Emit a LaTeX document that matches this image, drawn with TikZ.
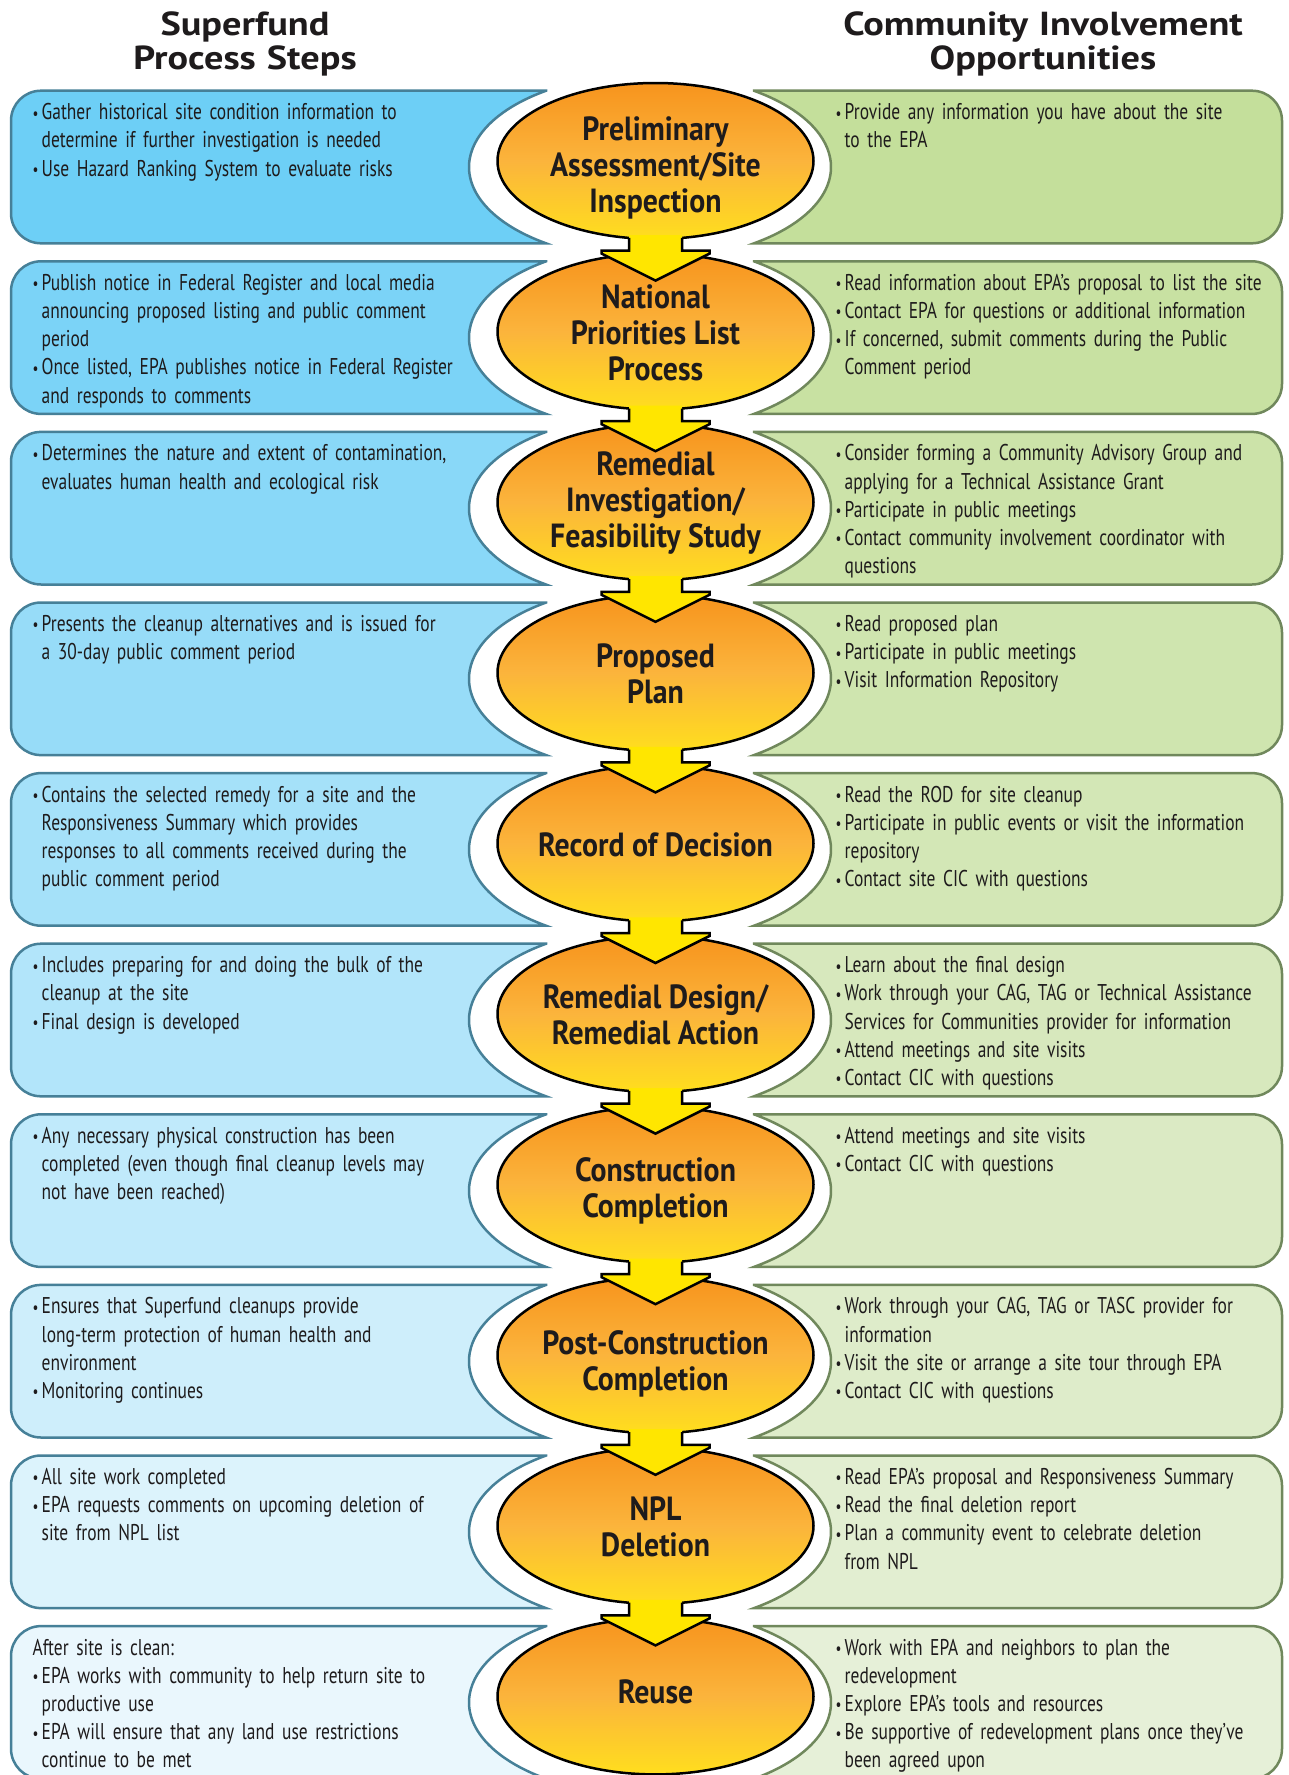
\documentclass[tikz,border=0pt]{standalone}
\usepackage{fontspec}
\setmainfont{PT Sans}
\newfontfamily\bodyfont{PT Sans}[FakeStretch=0.765]
\newfontfamily\stagefont{PT Sans}[FakeStretch=0.89]
\newfontfamily\titlefont{PT Sans}[FakeStretch=1.15]
\usetikzlibrary{shapes.geometric,calc}

\definecolor{blueA}{RGB}{109,207,246}
\definecolor{blueZ}{RGB}{234,247,253}
\definecolor{greenA}{RGB}{196,223,155}
\definecolor{greenZ}{RGB}{230,240,216}
\definecolor{blueline}{RGB}{70,128,152}
\definecolor{greenline}{RGB}{112,136,92}
\definecolor{txt}{RGB}{30,27,28}
\definecolor{orangeT}{RGB}{247,148,29}
\definecolor{orangeM}{RGB}{251,180,60}
\definecolor{yellowB}{RGB}{255,222,30}
\definecolor{arrowY}{RGB}{255,230,0}

\newcommand\bi{\makebox[9pt][l]{\raisebox{0.6pt}{\scalebox{0.75}{•}}}}
\newcommand\ci{\hspace*{9pt}}
\newcommand\bodysetup{\bodyfont\fontsize{22.8}{28.2}\selectfont}

\newcommand\sfrow[4]{%
  \pgfmathsetmacro\rT{90.7+170.6*(#1-1)}%
  \pgfmathsetmacro\rB{\rT+152.6}%
  \pgfmathsetmacro\rC{\rT+76.3}%
  \pgfmathsetmacro\rE{\rC-6}%
  \pgfmathsetmacro\rdy{{6,0,0,0,0,0,5.5,7.5,0,-5.5}[#1-1]}%
  \pgfmathsetmacro\rowk{100-100*(#1-1)/9}%
  \colorlet{lfill}{blueA!\rowk!blueZ}%
  \colorlet{rfill}{greenA!\rowk!greenZ}%
  \draw[lbox] (546,\rT) -- (41,\rT) arc[start angle=270,end angle=180,radius=30]
    -- (11,\rB-30) arc[start angle=180,end angle=90,radius=30]
    -- (546,\rB) arc[start angle=125.07,end angle=234.93,x radius=181,y radius=93.2] -- cycle;
  \draw[rbox] (754,\rT) -- (1252,\rT) arc[start angle=-90,end angle=0,radius=30]
    -- (1282,\rB-30) arc[start angle=0,end angle=90,radius=30]
    -- (754,\rB) arc[start angle=54.93,end angle=-54.93,x radius=181,y radius=93.2] -- cycle;
  \node[btext] (l#1) at (32.5,\rT+29) {#2};
  \node[btext] (r#1) at (835.5,\rT+29) {#4};
  \node[stage] (e#1) at (655.5,\rE) {};
  \node[stagetext] (t#1) at (655.5,\rE+1+\rdy) {#3};
}

\newcommand\arrowdn[1]{%
  \begin{scope}[shift={(e#1.center)}]
    \fill[arrowY] (-26.5,74) -- (-26.5,89.6) -- (-54,89.6) -- (-54,92.6) -- (0,119.6)
      -- (54,92.6) -- (54,89.6) -- (26.5,89.6) -- (26.5,74) -- cycle;
    \draw[arrowline] (-26.5,76.9) -- (-26.5,89.6) -- (-54,89.6) -- (-54,92.6) -- (0,119.6)
      -- (54,92.6) -- (54,89.6) -- (26.5,89.6) -- (26.5,76.9);
  \end{scope}}

\begin{document}
\begin{tikzpicture}[x=1pt,y=-1pt,
  lbox/.style={draw=blueline,line width=2.5pt,fill=lfill},
  rbox/.style={draw=greenline,line width=2.5pt,fill=rfill},
  btext/.style={anchor=base west,inner sep=0pt,text width=520pt,align=left,
    text=txt,font=\bodysetup},
  stage/.style={ellipse,draw=black,line width=2.5pt,minimum width=316pt,
    minimum height=156pt,inner sep=0pt,top color=orangeT,bottom color=yellowB,
    middle color=orangeM},
  stagetext/.style={inner sep=0pt,align=center,text=txt,
    font=\stagefont\bfseries\fontsize{33.5}{36}\selectfont},
  arrowline/.style={draw=black,line width=2.5pt,line join=miter},
  titletext/.style={anchor=base,inner sep=0pt,text width=500pt,align=center,
    text=txt,font=\titlefont\bfseries\fontsize{33.3}{34}\selectfont}]
\useasboundingbox (0,0) rectangle (1288,1775);
\fill[white] (0,0) rectangle (1288,1775);

\node[titletext] (h1) at (245,35) {Superfund\\Process Steps};
\node[titletext] (h2) at (1043,35) {Community Involvement\\Opportunities};

\sfrow{1}
{\bi Gather historical site condition information to\\\ci determine if further investigation is needed\\\bi Use Hazard Ranking System to evaluate risks}
{Preliminary\\Assessment/Site\\Inspection}
{\bi Provide any information you have about the site\\\ci to the EPA}

\sfrow{2}
{\bi Publish notice in Federal Register and local media\\\ci announcing proposed listing and public comment\\\ci period\\\bi Once listed, EPA publishes notice in Federal Register\\\ci and responds to comments}
{National\\Priorities List\\Process}
{\bi Read information about EPA’s proposal to list the site\\\bi Contact EPA for questions or additional information\\\bi If concerned, submit comments during the Public\\\ci Comment period}

\sfrow{3}
{\bi Determines the nature and extent of contamination,\\\ci evaluates human health and ecological risk}
{Remedial\\Investigation/\\Feasibility Study}
{\bi Consider forming a Community Advisory Group and\\\ci applying for a Technical Assistance Grant\\\bi Participate in public meetings\\\bi Contact community involvement coordinator with\\\ci questions}

\sfrow{4}
{\bi Presents the cleanup alternatives and is issued for\\\ci a 30-day public comment period}
{Proposed\\Plan}
{\bi Read proposed plan\\\bi Participate in public meetings\\\bi Visit Information Repository}

\sfrow{5}
{\bi Contains the selected remedy for a site and the\\\ci Responsiveness Summary which provides\\\ci responses to all comments received during the\\\ci public comment period}
{Record of Decision}
{\bi Read the ROD for site cleanup\\\bi Participate in public events or visit the information\\\ci repository\\\bi Contact site CIC with questions}

\sfrow{6}
{\bi Includes preparing for and doing the bulk of the\\\ci cleanup at the site\\\bi Final design is developed}
{Remedial Design/\\Remedial Action}
{\bi Learn about the final design\\\bi Work through your CAG, TAG or Technical Assistance\\\ci Services for Communities provider for information\\\bi Attend meetings and site visits\\\bi Contact CIC with questions}

\sfrow{7}
{\bi Any necessary physical construction has been\\\ci completed (even though final cleanup levels may\\\ci not have been reached)}
{Construction\\Completion}
{\bi Attend meetings and site visits\\\bi Contact CIC with questions}

\sfrow{8}
{\bi Ensures that Superfund cleanups provide\\\ci long-term protection of human health and\\\ci environment\\\bi Monitoring continues}
{Post-Construction\\Completion}
{\bi Work through your CAG, TAG or TASC provider for\\\ci information\\\bi Visit the site or arrange a site tour through EPA\\\bi Contact CIC with questions}

\sfrow{9}
{\bi All site work completed\\\bi EPA requests comments on upcoming deletion of\\\ci site from NPL list}
{NPL\\Deletion}
{\bi Read EPA’s proposal and Responsiveness Summary\\\bi Read the final deletion report\\\bi Plan a community event to celebrate deletion\\\ci from NPL}

\sfrow{10}
{After site is clean:\\\bi EPA works with community to help return site to\\\ci productive use\\\bi EPA will ensure that any land use restrictions\\\ci continue to be met}
{Reuse}
{\bi Work with EPA and neighbors to plan the\\\ci redevelopment\\\bi Explore EPA’s tools and resources\\\bi Be supportive of redevelopment plans once they’ve\\\ci been agreed upon}

\foreach \i in {1,...,9} {\arrowdn{\i}}
\end{tikzpicture}
\end{document}
